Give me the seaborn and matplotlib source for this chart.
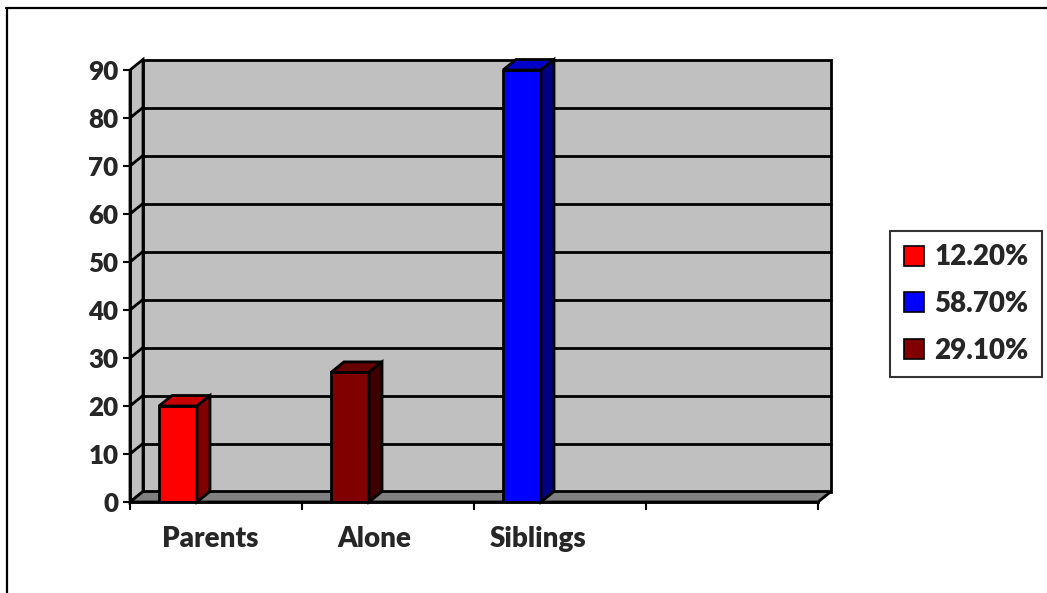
import matplotlib
matplotlib.use("Agg")
import matplotlib.pyplot as plt
from matplotlib.patches import Polygon, Patch
from matplotlib.lines import Line2D
import seaborn as sns
import pandas as pd

# ---- data ----
categories = ["Parents", "Alone", "Siblings"]
values = [20, 27, 90]
legend_labels = ["12.20%", "58.70%", "29.10%"]
y_ticks = [0, 10, 20, 30, 40, 50, 60, 70, 80, 90]
n_slots = 4  # three categories plus one empty slot

# ---- styles ----
front_colors = ["#FF0000", "#800000", "#0000FF"]
top_colors = ["#C80000", "#660000", "#0000C8"]
side_colors = ["#800000", "#3C0000", "#000080"]
legend_colors = ["#FF0000", "#0000FF", "#800000"]
wall_color = "#C0C0C0"
floor_color = "#808080"

sns.set_theme(style="white")
plt.rcParams["font.family"] = ["Lato", "DejaVu Sans"]
plt.rcParams["font.weight"] = "heavy"
FW = "heavy"

W, H = 1047, 593
fig = plt.figure(figsize=(W / 100, H / 100), dpi=100)
fig.patch.set_facecolor("white")

x_left, x_right, y_bot, y_top = 130, 818, 502, 70
ax = fig.add_axes([x_left / W, 1 - y_bot / H, (x_right - x_left) / W, (y_bot - y_top) / H])
ax.set_facecolor("none")

bar_w = 38 / 172
shift = 48 / 172  # front face centre from slot start
x0 = -shift
ymax = y_ticks[-1]
xmax = x0 + n_slots

px_x = (x_right - x_left) / n_slots
px_y = (y_bot - y_top) / ymax
dx = 13 / px_x
dy = 10.5 / px_y
lw = 2.0

def poly(pts, fc, z, lwid=lw):
    p = Polygon(pts, closed=True, facecolor=fc, edgecolor="black", linewidth=lwid,
                joinstyle="miter", clip_on=False, zorder=z)
    ax.add_patch(p)

# front faces via seaborn
df = pd.DataFrame({"category": categories, "value": values})
sns.barplot(data=df, x="category", y="value", hue="category", palette=front_colors,
            width=bar_w, edgecolor="black", linewidth=lw, legend=False, ax=ax, zorder=3,
            saturation=1)
ax.set_xlim(x0, xmax)
ax.set_ylim(0, ymax)

# back wall, side wall, floor
poly([(x0 + dx, dy), (xmax + dx, dy), (xmax + dx, ymax + dy), (x0 + dx, ymax + dy)], wall_color, 0.5)
poly([(x0, 0), (x0 + dx, dy), (x0 + dx, ymax + dy), (x0, ymax)], wall_color, 0.6)
poly([(x0, 0), (xmax, 0), (xmax + dx, dy), (x0 + dx, dy)], floor_color, 0.7)

# gridlines on walls
for t in y_ticks[1:-1]:
    ax.add_line(Line2D([x0 + dx, xmax + dx], [t + dy, t + dy], color="black", lw=lw, zorder=0.8, clip_on=False))
    ax.add_line(Line2D([x0, x0 + dx], [t, t + dy], color="black", lw=lw, zorder=0.8, clip_on=False))

for i, v in enumerate(values):
    xl = i - bar_w / 2
    xr = i + bar_w / 2
    poly([(xl, v), (xr, v), (xr + dx, v + dy), (xl + dx, v + dy)], top_colors[i], 4)
    poly([(xr, 0), (xr + dx, dy), (xr + dx, v + dy), (xr, v)], side_colors[i], 4)

# axes styling
for s in ["top", "right"]:
    ax.spines[s].set_visible(False)
for s in ["left", "bottom"]:
    ax.spines[s].set_linewidth(lw)
    ax.spines[s].set_color("black")
    ax.spines[s].set_zorder(5)

ax.set_yticks(y_ticks)
ax.set_yticklabels([str(t) for t in y_ticks], fontsize=18.7, fontweight=FW)
ax.tick_params(axis="y", direction="out", length=5, width=1.5, color="black", pad=3.5, left=True)

bounds = [x0 + k for k in range(n_slots + 1)]
ax.set_xticks(bounds, minor=True)
ax.tick_params(axis="x", which="minor", direction="out", length=6, width=1.5, color="black", bottom=True)
label_pos = [0.186 + i * 0.953 for i in range(len(categories))]
ax.set_xticks(label_pos)
ax.set_xticklabels(categories, fontsize=20, fontweight=FW)
ax.tick_params(axis="x", which="major", length=0, pad=17)
ax.set_xlabel("")
ax.set_ylabel("")

# legend
handles = [Patch(facecolor=c, edgecolor="black", linewidth=1.2) for c in legend_colors]
leg = fig.legend(handles, legend_labels, loc="center",
                 bbox_to_anchor=(966 / W, 1 - 304 / H), frameon=True, fancybox=False,
                 prop={"weight": FW, "size": 20},
                 handlelength=0.75, handleheight=0.75, handletextpad=0.35,
                 labelspacing=0.74, borderpad=0.5, borderaxespad=0)
leg.get_frame().set_edgecolor("black")
leg.get_frame().set_linewidth(1.5)

# outer frame (top and left edges visible)
fig.add_artist(Line2D([6 / W, 1.0], [1 - 8 / H, 1 - 8 / H], color="black", lw=1.6, transform=fig.transFigure))
fig.add_artist(Line2D([6.5 / W, 6.5 / W], [0, 1 - 8 / H], color="black", lw=1.6, transform=fig.transFigure))

fig.savefig("out.png", dpi=100)
